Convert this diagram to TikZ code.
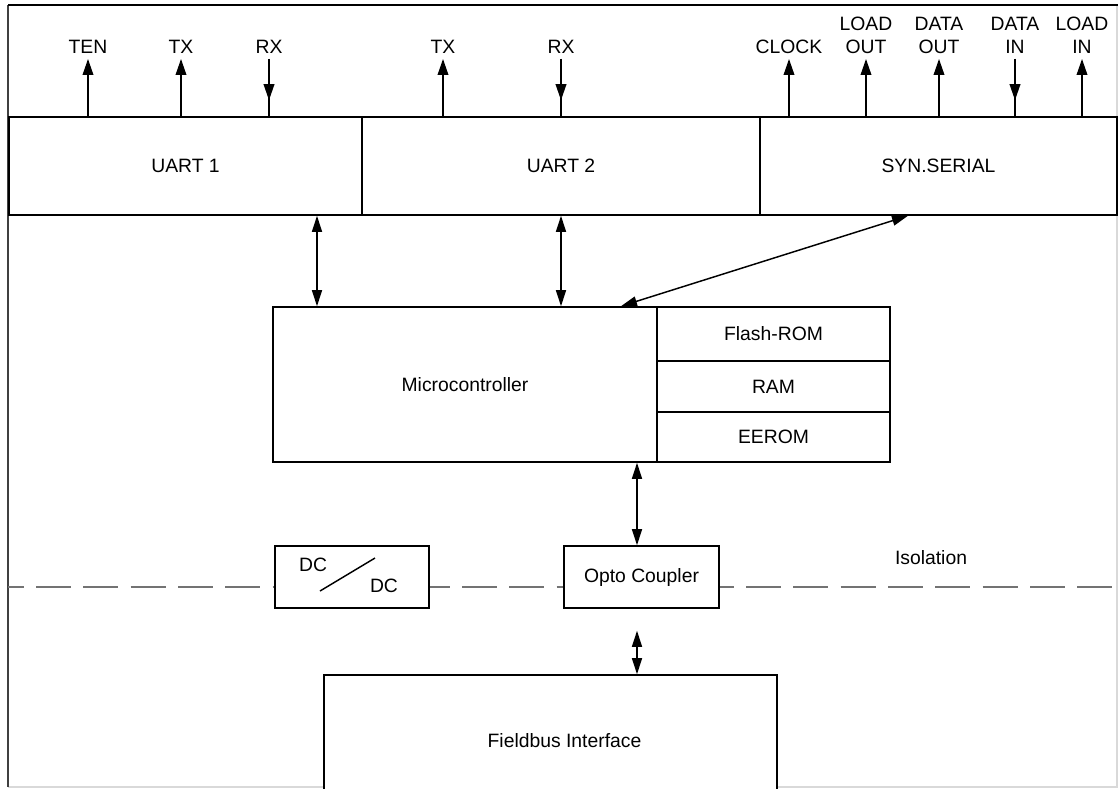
\documentclass[tikz,border=0pt]{standalone}
\usepackage{fontspec}
\setmainfont{Liberation Sans}
\usetikzlibrary{arrows.meta}
\newcommand\lblfont{\fontsize{14.5pt}{17.25pt}\selectfont}
\begin{document}
\begin{tikzpicture}[x=0.75pt,y=-0.75pt,
  box/.style={draw,line width=1.2pt,fill=white,inner sep=0pt,font=\lblfont},
  lbl/.style={inner sep=0pt,anchor=south,align=center,font=\lblfont},
  txt/.style={inner sep=0pt,font=\lblfont},
  uarr/.style={line width=1.1pt,-{Triangle[length=12pt,width=8pt]},shorten >=4.1pt},
  dline/.style={line width=1.1pt,shorten <=4.1pt},
  dtip/.style={line width=1.1pt,-{Triangle[length=12pt,width=8pt]},shorten <=4.1pt,shorten >=12pt},
  darr/.style={line width=1.1pt,{Triangle[length=12pt,width=7.5pt]}-{Triangle[length=12pt,width=7.5pt]}},
  iso/.style={draw=black!55,line width=1.5pt,dash pattern=on 26.25pt off 9.25pt,dash phase=14.5pt}]
\useasboundingbox (0,0) rectangle (1118,789);
\clip (0,0) rectangle (1118,789);
% frame
\draw[black!15,line width=0.8pt] (8,787) -- (1117,787) -- (1117,5);
\draw[black!75,line width=0.8pt] (8,5) -- (8,787);
\draw[line width=1.6pt] (8,5) -- (1118,5);
% isolation line
\draw[iso] (8,587) -- (1117,587);
% interface blocks
\node[box,minimum width=264.75pt,minimum height=73.5pt] (uart1) at (185.5,166) {UART 1};
\node[box,minimum width=298.5pt,minimum height=73.5pt] (uart2) at (561,166) {UART 2};
\node[box,minimum width=267.75pt,minimum height=73.5pt] (syn) at (938.5,166) {SYN.SERIAL};
% signal labels
\node[lbl] (ten) at (88,53.5) {TEN};
\node[lbl] (tx1) at (181,53.5) {TX};
\node[lbl] (rx1) at (269,53.5) {RX};
\node[lbl] (tx2) at (443,53.5) {TX};
\node[lbl] (rx2) at (561,53.5) {RX};
\node[lbl] (clk) at (789,53.5) {CLOCK};
\node[lbl] (lout) at (866,53.5) {LOAD\\OUT};
\node[lbl] (dout) at (939,53.5) {DATA\\OUT};
\node[lbl] (din) at (1015,53.5) {DATA\\IN};
\node[lbl] (lin) at (1082,53.5) {LOAD\\IN};
% signal arrows
\draw[uarr] (uart1.north -| ten) -- (ten.south);
\draw[uarr] (uart1.north -| tx1) -- (tx1.south);
\draw[dline] (rx1.south) -- (uart1.north -| rx1);
\draw[dtip] (rx1.south) -- (uart1.north -| rx1);
\draw[uarr] (uart2.north -| tx2) -- (tx2.south);
\draw[dline] (rx2.south) -- (uart2.north -| rx2);
\draw[dtip] (rx2.south) -- (uart2.north -| rx2);
\draw[uarr] (syn.north -| clk) -- (clk.south);
\draw[uarr] (syn.north -| lout) -- (lout.south);
\draw[uarr] (syn.north -| dout) -- (dout.south);
\draw[dline] (din.south) -- (syn.north -| din);
\draw[dtip] (din.south) -- (syn.north -| din);
\draw[uarr] (syn.north -| lin) -- (lin.south);
% microcontroller
\node[box,minimum width=288pt,minimum height=116.25pt] (mcu) at (465,384.5) {Microcontroller};
\node[box,minimum width=174.75pt,minimum height=40.5pt] (flash) at (773.5,334) {Flash-ROM};
\node[box,minimum width=174.75pt,minimum height=38.25pt] (ram) at (773.5,386.5) {RAM};
\node[box,minimum width=174.75pt,minimum height=37.5pt] (eerom) at (773.5,437) {EEROM};
% isolation parts
\node[box,minimum width=115.5pt,minimum height=46.5pt] (dcdc) at (352,577) {};
\node[txt] (dc1) at (313,565) {DC};
\node[txt] (dc2) at (384,586) {DC};
\draw[line width=1.1pt] (320,591) -- (375,558);
\node[box,minimum width=116.25pt,minimum height=46.5pt] (opto) at (641.5,577) {Opto Coupler};
\node[txt] (isol) at (931,558) {Isolation};
% fieldbus
\node[box,minimum width=339.75pt,minimum height=120pt] (fb) at (550.5,755) {};
\node[txt] (fbl) at (564.5,741) {Fieldbus Interface};
% bus arrows
\draw[darr] (uart1.south -| 317,0) -- (mcu.north -| 317,0);
\draw[darr] (uart2.south -| 561,0) -- (mcu.north -| 561,0);
\draw[darr] (syn.south -| 908,0) -- (mcu.north -| 621,0);
\draw[darr] (mcu.south -| 637,0) -- (opto.north -| 637,0);
\draw[darr,shorten <=16.5pt] (opto.south -| 637,0) -- (fb.north -| 637,0);
\end{tikzpicture}
\end{document}
